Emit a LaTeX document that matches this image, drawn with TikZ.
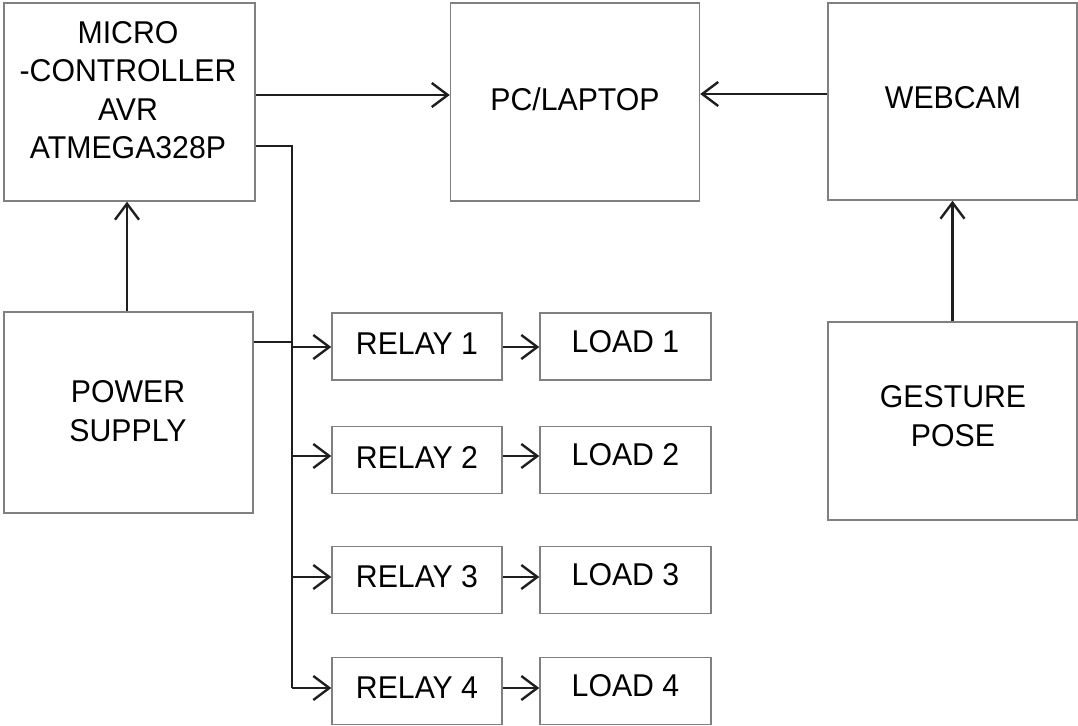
\documentclass[tikz,border=0pt]{standalone}
\usepackage{fontspec}
\setmainfont[FakeStretch=0.96]{Liberation Sans}
\usetikzlibrary{arrows.meta}
\tikzset{
  box/.style={draw=black!50, line width=1.4pt, fill=white, inner sep=0pt},
  lbl/.style={align=center, font=\fontsize{31.5}{38.5}\selectfont, inner sep=0pt, text=black},
  wire/.style={draw=black!88, line width=2.4pt},
  arr/.style={wire, -{Straight Barb[length=16pt, width=24pt, line width=2.4pt]}},
}
\begin{document}
\begin{tikzpicture}[x=1pt, y=-1pt]
\useasboundingbox (0,0) rectangle (1078,725);

% main blocks
\node[box, minimum width=251pt, minimum height=198pt] (mcu) at (129.5,102) {};
\node[lbl] (mcut) at (128,90) {MICRO\\-CONTROLLER\\AVR\\ATMEGA328P};
\node[box, minimum width=249pt, minimum height=198pt] (pc) at (575,102) {};
\node[lbl] (pct) at (575,99) {PC/LAPTOP};
\node[box, minimum width=249pt, minimum height=197pt] (cam) at (952.5,101.5) {};
\node[lbl] (camt) at (953,98) {WEBCAM};
\node[box, minimum width=249pt, minimum height=198pt] (pose) at (952.5,421) {};
\node[lbl] (poset) at (953,416) {GESTURE\\POSE};
\node[box, minimum width=249pt, minimum height=201pt] (psu) at (128.5,412.5) {};
\node[lbl] (psut) at (128,411) {POWER\\SUPPLY};

% relays and loads
\foreach \i/\y in {1/346.5, 2/460, 3/580, 4/691}{
  \node[box, minimum width=170pt, minimum height=67pt] (r\i) at (417,\y) {};
  \node[lbl] (r\i t) at (417,\y-3) {RELAY \i};
  \node[box, minimum width=171pt, minimum height=67pt] (l\i) at (625.5,\y) {};
  \node[lbl] (l\i t) at (625.5,\y-5) {LOAD \i};
}

% signal paths
\coordinate (mcuout) at (mcu.east |- 0,95);
\coordinate (pcin) at (pc.west |- 0,95);
\draw[arr] (mcuout) -- (pcin);
\coordinate (camout) at (cam.west |- 0,94);
\coordinate (pcin2) at (pc.east |- 0,94);
\draw[arr] (camout) -- (pcin2);
\draw[arr] (pose.north) -- (cam.south);
\coordinate (psutop) at (psu.north -| 127,0);
\coordinate (mcubot) at (mcu.south -| 127,0);
\draw[arr] (psutop) -- (mcubot);

% relay bus
\coordinate (ctl) at (mcu.east |- 0,146);
\coordinate (bustop) at (292,146);
\coordinate (busbot) at (292,688);
\draw[wire] (ctl) -- (bustop) -- (busbot);
\coordinate (psuout) at (psu.east |- 0,342);
\draw[wire] (psuout) -- (292,342);
\foreach \i/\y in {1/347, 2/456, 3/577, 4/688}{
  \coordinate (b\i) at (292,\y);
  \draw[arr] (b\i) -- (r\i.west |- b\i);
  \draw[arr] (r\i.east |- b\i) -- (l\i.west |- b\i);
}
\end{tikzpicture}
\end{document}
